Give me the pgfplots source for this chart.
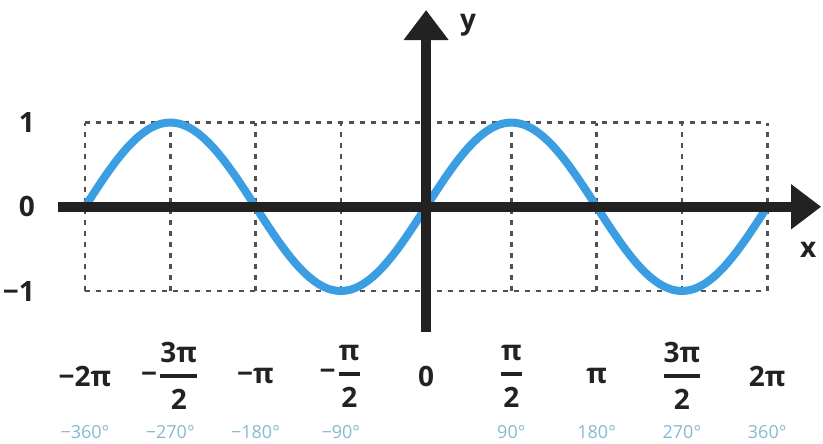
\documentclass[border=0pt]{standalone}
\usepackage{amsmath}
\usepackage{fontspec}
\setmainfont{Open Sans}
\usepackage{pgfplots}
\usepackage{pgfplotstable}
\pgfplotsset{compat=1.18}
\usetikzlibrary{arrows.meta}
\definecolor{curve}{HTML}{3B9EE3}
\definecolor{axisc}{HTML}{222222}
\definecolor{gridc}{HTML}{505050}
\definecolor{degc}{HTML}{86BACF}
\newcommand\fr[2]{\genfrac{}{}{1.9pt}{0}{\mbox{#1}}{\mbox{#2}}}

\pgfplotstableread{
x y
-360 0
-348.75 0.1951
-337.5 0.3827
-326.25 0.5556
-315 0.7071
-303.75 0.8315
-292.5 0.9239
-281.25 0.9808
-270 1
-258.75 0.9808
-247.5 0.9239
-236.25 0.8315
-225 0.7071
-213.75 0.5556
-202.5 0.3827
-191.25 0.1951
-180 0
-168.75 -0.1951
-157.5 -0.3827
-146.25 -0.5556
-135 -0.7071
-123.75 -0.8315
-112.5 -0.9239
-101.25 -0.9808
-90 -1
-78.75 -0.9808
-67.5 -0.9239
-56.25 -0.8315
-45 -0.7071
-33.75 -0.5556
-22.5 -0.3827
-11.25 -0.1951
0 0
11.25 0.1951
22.5 0.3827
33.75 0.5556
45 0.7071
56.25 0.8315
67.5 0.9239
78.75 0.9808
90 1
101.25 0.9808
112.5 0.9239
123.75 0.8315
135 0.7071
146.25 0.5556
157.5 0.3827
168.75 0.1951
180 0
191.25 -0.1951
202.5 -0.3827
213.75 -0.5556
225 -0.7071
236.25 -0.8315
247.5 -0.9239
258.75 -0.9808
270 -1
281.25 -0.9808
292.5 -0.9239
303.75 -0.8315
315 -0.7071
326.25 -0.5556
337.5 -0.3827
348.75 -0.1951
360 0
}\sinedata

\pgfplotstableread{
x y
-360 -1
-360 1
nan nan
-270 -1
-270 1
nan nan
-180 -1
-180 1
nan nan
-90 -1
-90 1
nan nan
90 -1
90 1
nan nan
180 -1
180 1
nan nan
270 -1
270 1
nan nan
360 -1
360 1
nan nan
-360 1
360 1
nan nan
-360 -1
360 -1
}\griddata

\begin{document}
\begin{tikzpicture}
\begin{axis}[
  x=0.4736pt, y=42.1pt,
  xmin=-388.5, xmax=417, ymin=-1.488, ymax=2.336,
  axis lines=middle,
  axis line style={line width=5pt, color=axisc, -{Triangle[width=21.5pt,length=15pt]}},
  axis on top,
  clip=false,
  unbounded coords=jump,
  major tick length=0pt,
  hide obscured x ticks=false, hide obscured y ticks=false,
  xtick={-360,-270,-180,-90,0,90,180,270,360},
  xticklabels={{\mbox{−2π}},{\mbox{−\kern0.5pt}$\fr{3π}{2}$},{\mbox{−π}},{\mbox{−\kern0.5pt}$\fr{π}{2}$},{0},{$\fr{π}{2}$},{π},{$\fr{3π}{2}$},{2π}},
  xticklabel style={anchor=center, yshift=-84.65pt, text=axisc, font=\bfseries\fontsize{14}{16}\selectfont},
  extra x ticks={-360,-270,-180,-90,90,180,270,360},
  extra x tick labels={−360°,−270°,−180°,−90°,90°,180°,270°,360°},
  extra x tick style={xticklabel style={yshift=-28pt, text=degc, font=\fontsize{9}{11}\selectfont}},
  ytick={-1,0,1},
  yticklabels={−1,0,1},
  yticklabel style={anchor=east, xshift=-192pt, text=axisc, font=\bfseries\fontsize{14}{16}\selectfont},
]
\addplot[gridc, line width=1.3pt, dash pattern=on 2.6pt off 2.9pt] table {\griddata};
\addplot[curve, line width=4pt, smooth] table {\sinedata};
\node[text=axisc, font=\bfseries\fontsize{14}{16}\selectfont] at (axis cs:44.3,2.158) {y};
\node[text=axisc, font=\bfseries\fontsize{14}{16}\selectfont] at (axis cs:403.3,-0.514) {x};
\coordinate (bl) at (axis cs:-449.7,-2.806);
\coordinate (tr) at (axis cs:418.9,2.455);
\end{axis}
\pgfresetboundingbox
\path[use as bounding box] (bl) rectangle (tr);
\end{tikzpicture}
\end{document}
